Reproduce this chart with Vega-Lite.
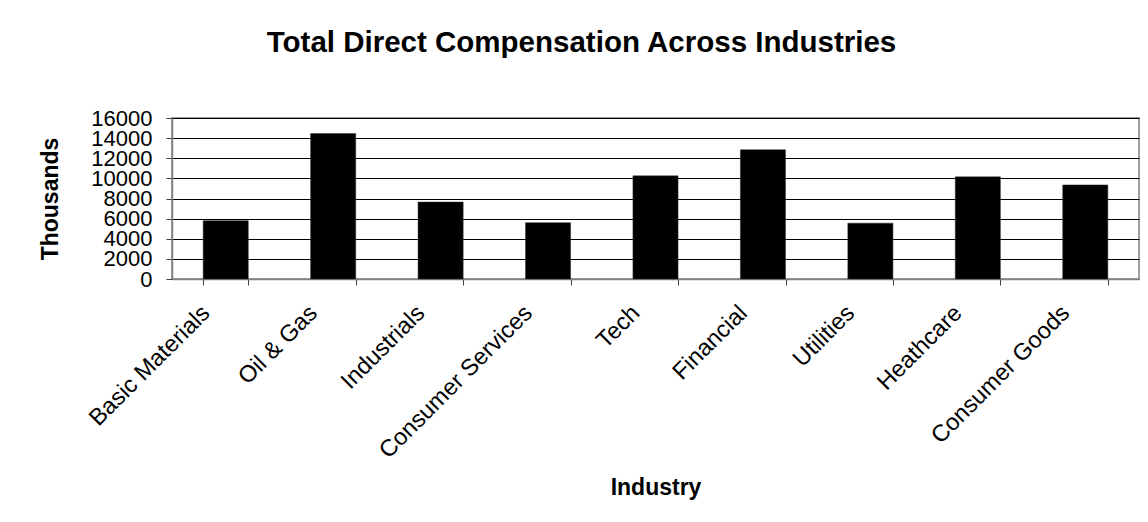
{
  "$schema": "https://vega.github.io/schema/vega-lite/v6.json",
  "autosize": {"type": "none"},
  "padding": {"left": 172, "top": 118, "right": 9, "bottom": 243},
  "width": 967,
  "height": 161,
  "background": "white",
  "title": {
    "text": "Total Direct Compensation Across Industries",
    "font": "Liberation Sans",
    "fontSize": 29.5,
    "fontWeight": "bold",
    "color": "black",
    "anchor": "middle",
    "dx": -74,
    "offset": 49
  },
  "data": {
    "values": [
      {"industry": "Basic Materials", "value": 5800},
      {"industry": "Oil & Gas", "value": 14450},
      {"industry": "Industrials", "value": 7650},
      {"industry": "Consumer Services", "value": 5600},
      {"industry": "Tech", "value": 10250},
      {"industry": "Financial", "value": 12850},
      {"industry": "Utilities", "value": 5550},
      {"industry": "Heathcare", "value": 10150},
      {"industry": "Consumer Goods", "value": 9350}
    ]
  },
  "mark": {"type": "bar", "color": "black", "stroke": "#333333", "strokeWidth": 0.5},
  "encoding": {
    "x": {
      "field": "industry",
      "type": "nominal",
      "sort": null,
      "scale": {"paddingInner": 0.58, "paddingOuter": 0.29},
      "axis": {
        "title": "Industry",
        "titleFont": "Liberation Sans",
        "titleFontSize": 23,
        "titleFontWeight": "bold",
        "titleColor": "black",
        "titlePadding": 14,
        "labelFont": "Liberation Sans",
        "labelFontSize": 23.5,
        "labelColor": "black",
        "labelAngle": -45,
        "labelAlign": "right",
        "labelBaseline": "middle",
        "labelOffset": -20,
        "labelPadding": 24,
        "labelOverlap": false,
        "labelLimit": 0,
        "tickBand": "extent",
        "tickSize": 6,
        "tickColor": "#404040",
        "domainColor": "#808080",
        "domainWidth": 1.5,
        "grid": false
      }
    },
    "y": {
      "field": "value",
      "type": "quantitative",
      "scale": {"domain": [0, 16000], "nice": false},
      "axis": {
        "title": "Thousands",
        "titleFont": "Liberation Sans",
        "titleFontSize": 23,
        "titleFontWeight": "bold",
        "titleColor": "black",
        "titlePadding": 28,
        "values": [0, 2000, 4000, 6000, 8000, 10000, 12000, 14000, 16000],
        "format": "d",
        "labelFont": "Liberation Sans",
        "labelFontSize": 22,
        "labelColor": "black",
        "labelPadding": 14,
        "labelOverlap": false,
        "tickSize": 6,
        "tickColor": "#404040",
        "domainColor": "#808080",
        "domainWidth": 1.5,
        "grid": true,
        "gridColor": "black",
        "gridWidth": 1
      }
    }
  },
  "config": {
    "view": {"stroke": "#808080", "strokeWidth": 1.5}
  }
}
